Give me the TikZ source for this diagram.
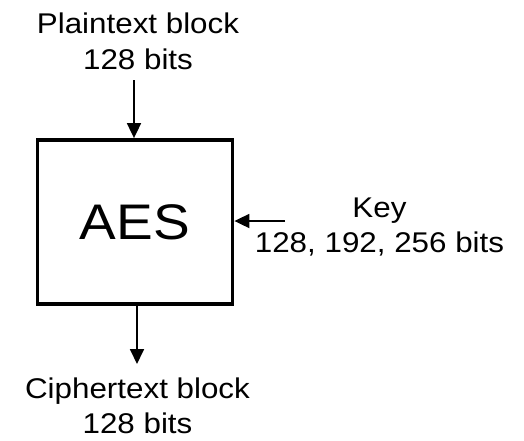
\documentclass[tikz,border=0pt]{standalone}
\usepackage{fontspec}
\setmainfont[FakeStretch=1.1]{Liberation Sans}
\usetikzlibrary{arrows.meta}
\begin{document}
\begin{tikzpicture}[x=1pt,y=-1pt,
  lbl/.style={align=center,font=\fontsize{28.5}{35.5}\selectfont,inner sep=0pt,anchor=north},
  arr/.style={line width=1.8pt,-{Triangle[length=15pt,width=14pt]}},
  aesbox/.style={draw,line width=3.8pt,minimum width=195pt,minimum height=164pt,inner sep=0pt,font=\fontsize{50}{50}\selectfont}]
\useasboundingbox (0,0) rectangle (524,440);
\node[aesbox] (aes) at (135,222) {AES};
\node[lbl] (pt) at (138,13) {Plaintext block\\128 bits};
\node[lbl] (ct) at (137.5,377.5) {Ciphertext block\\128 bits};
\node[lbl] (key) at (379.5,197.5) {Key\\128, 192, 256 bits};
\coordinate (ptin) at (134,80);
\coordinate (keyin) at (285,221);
\coordinate (ctout) at (137,364);
\draw[arr] (ptin) -- (ptin |- aes.north);
\draw[arr] (keyin) -- (keyin -| aes.east);
\draw[arr] (ctout |- aes.south) -- (ctout);
\end{tikzpicture}
\end{document}
